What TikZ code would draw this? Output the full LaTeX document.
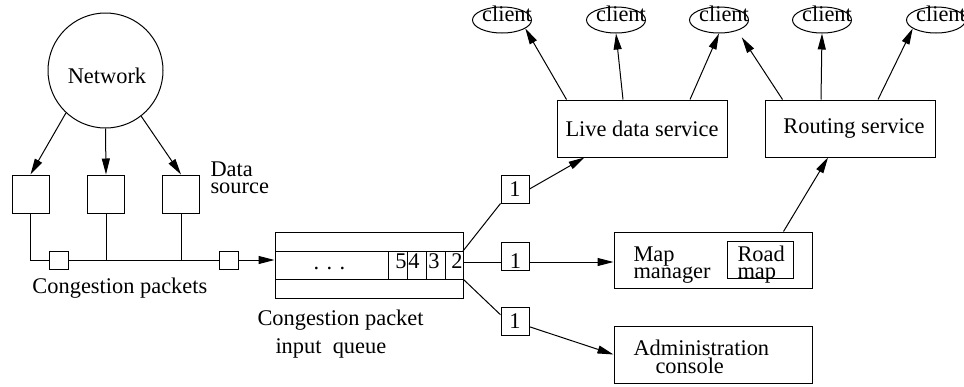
\documentclass[tikz,border=0pt]{standalone}
\usepackage{fontspec}
\setmainfont{Liberation Serif}
\usepackage{tikz}
\usetikzlibrary{shapes.geometric, arrows.meta, positioning, calc}

\begin{document}
\begin{tikzpicture}[x=0.5pt, y=-0.5pt, line width=0.5pt,
    font=\fontsize{11.2}{13}\selectfont,
    box/.style={draw, rectangle, inner sep=0pt},
    srcbox/.style={box, minimum width=18.5pt, minimum height=19pt},
    pkt/.style={box, minimum width=9.5pt, minimum height=9pt},
    tag/.style={box, minimum width=14pt, minimum height=14pt},
    svc/.style={box, minimum width=85pt, minimum height=28.5pt},
    widebox/.style={box, minimum width=99pt, minimum height=28pt},
    client/.style={draw, ellipse, inner sep=0pt, minimum width=29.5pt, minimum height=13pt,
      label={[xshift=2.5pt, yshift=3pt]center:client}},
    txt/.style={inner sep=0pt, anchor=base west},
    arr/.style={-{Triangle[length=8pt, width=4pt]}}]

  \useasboundingbox (0,0) rectangle (964,386);

  % Network and data sources
  \node[draw, circle, minimum size=57.5pt, inner sep=0pt,
    label={[xshift=0.75pt, yshift=-2.5pt]center:Network}] (net) at (105.5,70.5) {};
  \node[srcbox] (s1) at (30.5,194) {};
  \node[srcbox] (s2) at (106,194) {};
  \node[srcbox] (s3) at (181,194) {};
  \draw[arr] (net.227) -- (s1.north);
  \draw[arr] (net.south) -- (s2.north);
  \draw[arr] (net.-52) -- (s3.north);
  \node[txt] (dsrc1) at (210,176) {Data};
  \node[txt] (dsrc2) at (210,193) {source};

  % Packets on the bus
  \node[pkt] (p1) at (58.5,260) {};
  \node[pkt] (p2) at (228.5,260) {};
  \draw (s1.south) |- (p1.west);
  \draw (p1.east) -- (p2.west);
  \draw (s2.south) -- (s2.south |- p1.east);
  \draw (s3.south) -- (s3.south |- p1.east);
  \node[txt] (pktlbl) at (32,293) {Congestion packets};

  % Input queue
  \node[box, minimum width=94pt, minimum height=33pt] (queue) at (369,265) {};
  \draw[arr] (p2.east) -- (p2.east -| queue.west);
  \draw (275,251) -- (463,251);
  \draw (275,279) -- (463,279);
  \foreach \x in {388,407,426,445}
    \draw (\x,251) -- (\x,279);
  \node[txt] (dots) at (313,269) {. . .};
  \foreach \d/\x in {5/401,4/414,3/434,2/457}
    \node[inner sep=0pt, anchor=base] (q\d) at (\x,268) {\d};
  \node[txt] (qlbl1) at (257,325) {Congestion packet};
  \node[txt] (qlbl2) at (275,353) {input~~queue};

  % Consumers
  \node[tag] (t1) at (515,189) {1};
  \node[tag, label={[yshift=-2.5pt]center:1}] (t2) at (515.5,256) {};
  \node[tag] (t3) at (515,321.5) {1};
  \node[svc] (live) at (642,128.5) {Live data service};
  \node[svc] (route) at (850,128.5) {\hspace*{4pt}Routing service};
  \node[widebox] (map) at (713,260) {};
  \node[box, minimum width=33pt, minimum height=18.5pt] (road) at (760,259.5) {};
  \node[txt] (map1) at (633,261) {Map};
  \node[txt] (map2) at (633,278) {manager};
  \node[txt] (road1) at (737,261) {Road};
  \node[txt] (road2) at (737,278) {map};
  \node[widebox, minimum height=28.5pt] (admin) at (713,354.5) {};
  \node[txt] (adm1) at (633,355) {Administration};
  \node[txt] (adm2) at (655,373) {console};

  \coordinate (qa) at (463,251);
  \coordinate (qb) at (463,262);
  \coordinate (qc) at (463,279);
  \draw (qa) -- (t1.south west);
  \draw[arr] (t1.east) -- ([xshift=14pt]live.south west);
  \draw (qb) -- (qb -| t2.west);
  \draw[arr] (t2.east |- qb) -- (qb -| map.west);
  \draw (qc) -- (t3.155);
  \draw[arr] (t3.-20) -- (admin.west);
  \draw[arr] ([xshift=85pt]map.north west) -- ([xshift=-11pt]route.south);

  % Clients
  \foreach \i/\x in {1/502,2/616,3/719,4/822,5/936}
    \node[client] (c\i) at (\x,20) {};
  \draw[arr] ([xshift=5pt]live.north west) -- (c1.-20);
  \draw[arr] ([xshift=-9.5pt]live.north) -- (c2.south);
  \draw[arr] ([xshift=24pt]live.north) -- (c3.south);
  \draw[arr, shorten >=4pt] ([xshift=9pt]route.north west) -- (c3.-30);
  \draw[arr] ([xshift=-14.5pt]route.north) -- (c4.south);
  \draw[arr] ([xshift=14pt]route.north) -- (c5.200);
\end{tikzpicture}
\end{document}
